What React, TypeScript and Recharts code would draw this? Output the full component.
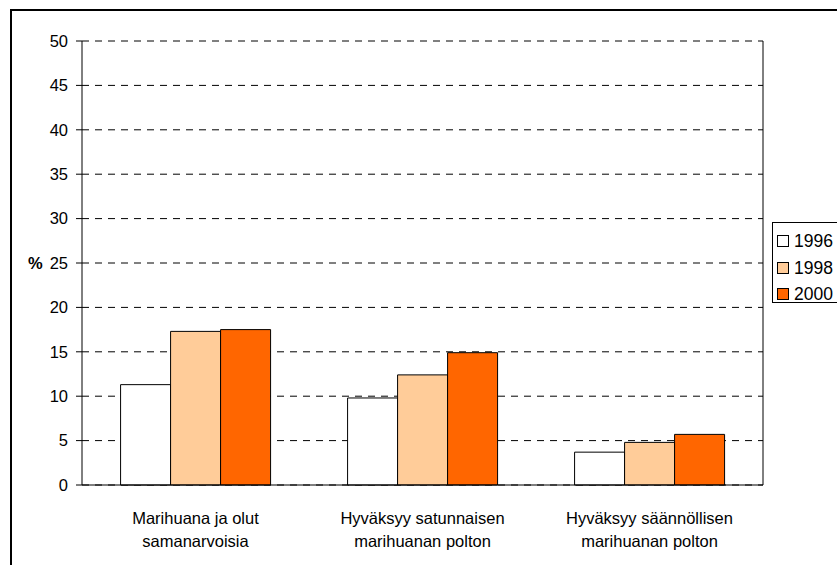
import React from "react";
import {
  BarChart,
  Bar,
  XAxis,
  YAxis,
  CartesianGrid
} from "recharts";

const categories = [
  "Marihuana ja olut\nsamanarvoisia",
  "Hyväksyy satunnaisen\nmarihuanan polton",
  "Hyväksyy säännöllisen\nmarihuanan polton"
];
const values1996 = [11.3, 9.8, 3.7];
const values1998 = [17.3, 12.4, 4.8];
const values2000 = [17.5, 14.9, 5.7];
const yTicks = [0, 5, 10, 15, 20, 25, 30, 35, 40, 45, 50];

const series = [
  { key: "1996", values: values1996, color: "#FFFFFF" },
  { key: "1998", values: values1998, color: "#FFCC99" },
  { key: "2000", values: values2000, color: "#FF6600" }
];

const data = categories.map((name, i) => {
  const row: any = { name };
  series.forEach((s) => {
    row[s.key] = s.values[i];
  });
  return row;
});

const FONT = "'Liberation Sans', Arial, sans-serif";

function CategoryTick(props: any) {
  const { x, y, payload } = props;
  const lines = String(payload.value).split("\n");
  return (
    <text
      x={x}
      y={y}
      textAnchor="middle"
      fill="#000"
      fontSize={16.5}
      fontFamily={FONT}
    >
      {lines.map((line, i) => (
        <tspan key={i} x={x} dy={i === 0 ? 31 : 22.5}>
          {line}
        </tspan>
      ))}
    </text>
  );
}

function LegendBox() {
  return (
    <div
      style={{
        position: "absolute",
        left: 772,
        top: 222,
        border: "1px solid #000",
        background: "#fff",
        width: 70,
        height: 81,
        boxSizing: "border-box",
        paddingTop: 5,
        paddingLeft: 4,
        fontFamily: FONT,
        fontSize: 17.5
      }}
    >
      {series.map((s) => (
        <div
          key={s.key}
          style={{ display: "flex", alignItems: "center", height: 26.5 }}
        >
          <span
            style={{
              display: "inline-block",
              width: 10,
              height: 10,
              border: "1px solid #000",
              background: s.color,
              marginRight: 5
            }}
          />
          <span style={{ lineHeight: "18px" }}>{s.key}</span>
        </div>
      ))}
    </div>
  );
}

export default function App() {
  return (
    <div
      style={{
        position: "absolute",
        left: 0,
        top: 0,
        width: 837,
        height: 565,
        overflow: "hidden",
        background: "#fff"
      }}
    >
      <div
        style={{
          position: "absolute",
          left: 10,
          top: 9,
          width: 900,
          height: 700,
          border: "2px solid #000"
        }}
      />
      <div style={{ position: "absolute", left: 0, top: 0 }}>
        <BarChart
          width={837}
          height={565}
          data={data}
          margin={{ top: 41, right: 74, bottom: 40, left: 12 }}
          barCategoryGap="17%"
          barGap={0}
        >
          <CartesianGrid
            horizontal
            vertical={false}
            stroke="#000"
            strokeDasharray="7 6"
          />
          <CartesianGrid
            horizontal={false}
            vertical
            stroke="#000"
            verticalCoordinatesGenerator={({ offset }: any) => [
              offset.left + offset.width
            ]}
          />
          <XAxis
            dataKey="name"
            height={40}
            tickLine={false}
            axisLine={{ stroke: "#000" }}
            interval={0}
            tick={<CategoryTick />}
          />
          <YAxis
            width={70}
            domain={[0, 50]}
            ticks={yTicks}
            interval={0}
            tickSize={6}
            tickMargin={8}
            tickLine={{ stroke: "#000" }}
            axisLine={{ stroke: "#000" }}
            tick={{ fill: "#000", fontSize: 16.5, fontFamily: FONT }}
            label={{
              value: "%",
              position: "insideLeft",
              offset: 16,
              style: {
                fontWeight: "bold",
                fill: "#000",
                fontSize: 16.5,
                fontFamily: FONT
              }
            }}
          />
          {series.map((s) => (
            <Bar
              key={s.key}
              dataKey={s.key}
              fill={s.color}
              stroke="#000"
              strokeWidth={1}
              isAnimationActive={false}
            />
          ))}
        </BarChart>
      </div>
      <LegendBox />
    </div>
  );
}
